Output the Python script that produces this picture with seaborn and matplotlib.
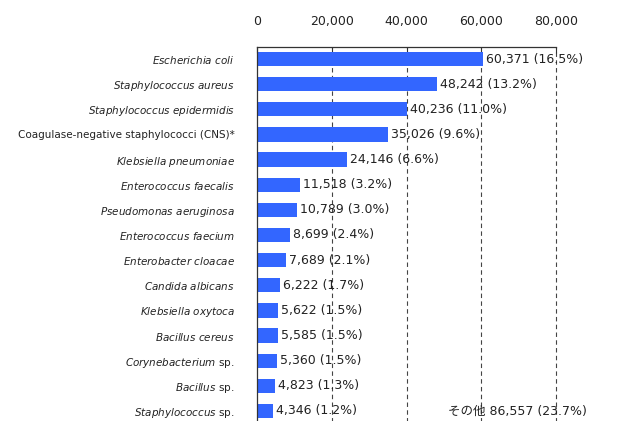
import seaborn as sns
import matplotlib.pyplot as plt
import pandas as pd

organisms = ["Escherichia coli", "Staphylococcus aureus", "Staphylococcus epidermidis",
             "Coagulase-negative staphylococci (CNS)*", "Klebsiella pneumoniae",
             "Enterococcus faecalis", "Pseudomonas aeruginosa", "Enterococcus faecium",
             "Enterobacter cloacae", "Candida albicans", "Klebsiella oxytoca",
             "Bacillus cereus", "Corynebacterium sp.", "Bacillus sp.", "Staphylococcus sp."]
counts = [60371, 48242, 40236, 35026, 24146, 11518, 10789, 8699, 7689, 6222,
          5622, 5585, 5360, 4823, 4346]
shares = [16.5, 13.2, 11.0, 9.6, 6.6, 3.2, 3.0, 2.4, 2.1, 1.7, 1.5, 1.5, 1.5, 1.3, 1.2]
other_count = 86557
other_share = 23.7
xticks = [0, 20000, 40000, 60000, 80000]

df = pd.DataFrame({"organism": organisms, "count": counts})

sns.set_theme(style="white")
plt.rcParams['font.family'] = ['DejaVu Sans', 'Noto Sans CJK JP']
plt.rcParams['mathtext.fontset'] = 'dejavusans'

fig = plt.figure(figsize=(6.3, 4.21), dpi=100)
ax = fig.add_axes([257 / 630, -2.5 / 421, 299 / 630, 376.5 / 421])

sns.barplot(data=df, x="count", y="organism", orient="h", color="#3366ff",
            saturation=1, width=0.57, linewidth=0, ax=ax)

ax.set_xlim(0, 80000)
ax.set_ylim(14.5, -0.48)
ax.set_xlabel("")
ax.set_ylabel("")

# grid lines at the major ticks
for x in xticks[1:]:
    ax.axvline(x, color="#444444", linestyle=(0, (4, 3)), linewidth=0.8,
               zorder=0, clip_on=False)

ax.xaxis.tick_top()
ax.set_xticks(xticks)
ax.set_xticklabels([f"{x:,}" for x in xticks], fontsize=9, color="#222222")
ax.tick_params(axis="x", direction="in", length=4, pad=14, color="#333333", width=0.8)


def label(name):
    # genus/species in italic, "sp." and the CNS group upright
    if name.startswith("Coagulase"):
        return name
    if name.endswith(" sp."):
        return r"$\it{" + name[:-4] + "}$ sp."
    return r"$\it{" + name.replace(" ", r"\ ") + "}$"


ax.set_yticks(range(len(organisms)))
ax.set_yticklabels([label(n) for n in organisms], fontsize=7.5, color="#222222")
ax.tick_params(axis="y", length=0, pad=16)
ax.set_yticks([i + 0.5 for i in range(len(organisms) - 1)], minor=True)
ax.tick_params(axis="y", which="minor", direction="in", length=3, color="#333333")

for side in ["right", "bottom"]:
    ax.spines[side].set_visible(False)
for side in ["top", "left"]:
    ax.spines[side].set_color("#333333")
    ax.spines[side].set_linewidth(0.9)

for i, (c, s) in enumerate(zip(counts, shares)):
    ax.text(c + 800, i, f"{c:,} ({s:.1f}%)", va="center", ha="left",
            fontsize=9, color="#222222")

ax.text(88300, len(organisms) - 1, f"その他 {other_count:,} ({other_share:.1f}%)",
        va="center", ha="right", fontsize=9, color="#222222", clip_on=False)

fig.savefig("out.png", dpi=100)
